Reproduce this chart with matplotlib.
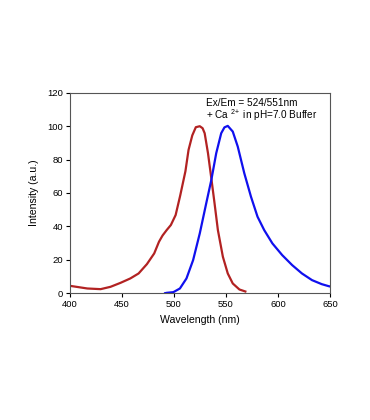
import matplotlib
matplotlib.use("Agg")
import matplotlib.pyplot as plt

plt.rcParams['font.family'] = ['Liberation Sans', 'DejaVu Sans']
plt.rcParams['mathtext.fontset'] = 'custom'
plt.rcParams['mathtext.rm'] = 'Liberation Sans'

# excitation spectrum (red)
ex_wl = [400, 402, 416.7, 429.5, 439, 448.7, 458, 466, 474, 481, 485.6, 489, 493,
         497, 501.6, 506, 511, 514, 517.6, 521, 524.8, 527.5, 529.5, 532.7,
         535.9, 539, 542.2, 547, 551.7, 556.5, 562.9, 568.6]
ex_int = [4.4, 4.2, 2.8, 2.4, 3.8, 6.2, 8.8, 11.8, 17.4, 23.8, 30.8, 34.5, 37.8,
          40.8, 46.8, 58.5, 73, 85.8, 94.5, 99.4, 100, 98.8, 95.8, 83.8,
          68.8, 53.8, 37.8, 21.8, 11.8, 5.8, 2.2, 1]

# emission spectrum (blue)
em_wl = [491.5, 493, 499.4, 505.7, 512, 518.4, 524.8, 531, 535.9, 540.6, 545.4,
         548.5, 551.7, 556.5, 561.3, 567.6, 574, 580.3, 586.7, 594.6, 604,
         613.6, 623, 632.7, 642, 648.6, 650]
em_int = [0, 0.2, 0.6, 2.8, 8.8, 19.8, 35.8, 53.8, 67.8, 83.8, 95.8,
          99.3, 100.2, 96.8, 87.8, 71.8, 57.8, 45.8, 37.8, 29.8, 22.8,
          16.8, 11.8, 7.8, 5.4, 4.2, 4.0]

fig = plt.figure(figsize=(3.7, 4.2), dpi=100)
ax = fig.add_axes([0.189, 0.302, 0.703, 0.477])

ax.plot(ex_wl, ex_int, color='#b22222', lw=1.6, solid_joinstyle='round')
ax.plot(em_wl, em_int, color='#1010ee', lw=1.6, solid_joinstyle='round')

ax.set_xlim(400, 650)
ax.set_ylim(0, 120)
ax.set_xticks(range(400, 651, 50))
ax.set_yticks(range(0, 121, 20))
ax.tick_params(direction='out', length=3, width=0.8, labelsize=6.8, pad=2)
for s in ax.spines.values():
    s.set_color('#555555')
    s.set_linewidth(0.8)

ax.set_xlabel('Wavelength (nm)', fontsize=7.6, labelpad=4)
ax.set_ylabel('Intensity (a.u.)', fontsize=7.6, labelpad=6)

ax.text(0.523, 0.935, 'Ex/Em = 524/551nm', transform=ax.transAxes, fontsize=7.2)
ax.text(0.523, 0.87, r'+ Ca $^{\mathrm{2\!+}}$ in pH=7.0 Buffer', transform=ax.transAxes, fontsize=7.2)

fig.savefig('out.png', dpi=100)
